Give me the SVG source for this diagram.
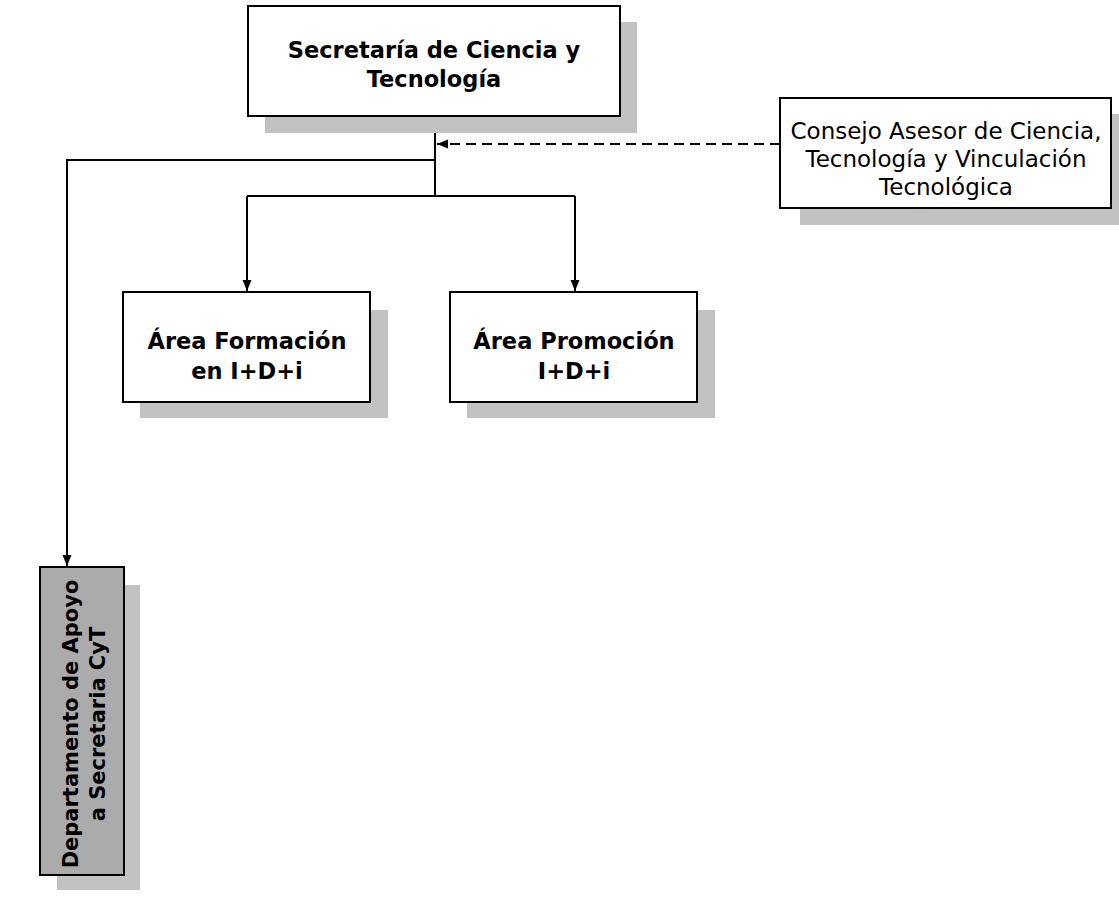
<svg xmlns="http://www.w3.org/2000/svg" width="1119" height="913" viewBox="0 0 1119 913">
<style>
.box{fill:#fff;stroke:#000;stroke-width:2}
.dbox{fill:#ababab;stroke:#000;stroke-width:2}
.sh{fill:#c2c2c2}
.b{font-family:"DejaVu Sans",Verdana,sans-serif;font-weight:bold;font-size:22.5px;text-anchor:middle;fill:#000}
.bd{font-family:"DejaVu Sans",Verdana,sans-serif;font-weight:bold;font-size:21px;text-anchor:middle;fill:#000}
.n{font-family:"DejaVu Sans",Verdana,sans-serif;font-size:23px;text-anchor:middle;fill:#000}
.ln{fill:none;stroke:#000;stroke-width:2}
.dash{fill:none;stroke:#000;stroke-width:2;stroke-dasharray:10,6}
</style>
<defs>
<marker id="ah" markerWidth="12" markerHeight="12" refX="11" refY="6" orient="auto" markerUnits="userSpaceOnUse">
<path d="M0,1.5 L11,6 L0,10.5 Z" fill="#000"/>
</marker>
</defs>
<rect width="1119" height="913" fill="#fff"/>
<g id="connectors">
<path class="ln" d="M435,117 V196"/>
<path class="ln" d="M247,196 H575"/>
<path class="ln" d="M247,196 V291" marker-end="url(#ah)"/>
<path class="ln" d="M575,196 V291" marker-end="url(#ah)"/>
<path class="ln" d="M435,160 H67 V566" marker-end="url(#ah)"/>
<path class="dash" d="M780,144 H437" marker-end="url(#ah)"/>
</g>
<g id="secretaria">
<rect class="sh" x="265" y="22" width="372" height="111"/>
<rect class="box" x="248" y="6" width="372" height="110"/>
<text class="b" x="434" y="58">Secretaría de Ciencia y</text>
<text class="b" x="434" y="87">Tecnología</text>
</g>
<g id="consejo">
<rect class="sh" x="800" y="114" width="319" height="111"/>
<rect class="box" x="780" y="98" width="331" height="110"/>
<text class="n" x="946" y="139">Consejo Asesor de Ciencia,</text>
<text class="n" x="946" y="167">Tecnología y Vinculación</text>
<text class="n" x="946" y="195">Tecnológica</text>
</g>
<g id="formacion">
<rect class="sh" x="140" y="310" width="248" height="108"/>
<rect class="box" x="123" y="292" width="247" height="110"/>
<text class="b" x="247" y="349">Área Formación</text>
<text class="b" x="247" y="379">en I+D+i</text>
</g>
<g id="promocion">
<rect class="sh" x="467" y="310" width="248" height="108"/>
<rect class="box" x="450" y="292" width="247" height="110"/>
<text class="b" x="574" y="349">Área Promoción</text>
<text class="b" x="574" y="379">I+D+i</text>
</g>
<g id="departamento">
<rect class="sh" x="57" y="585" width="83" height="305"/>
<rect class="dbox" x="40" y="567" width="84" height="308"/>
<text class="bd" transform="translate(78,724) rotate(-90)">Departamento de Apoyo</text>
<text class="bd" transform="translate(105,724) rotate(-90)">a Secretaria CyT</text>
</g>
</svg>
